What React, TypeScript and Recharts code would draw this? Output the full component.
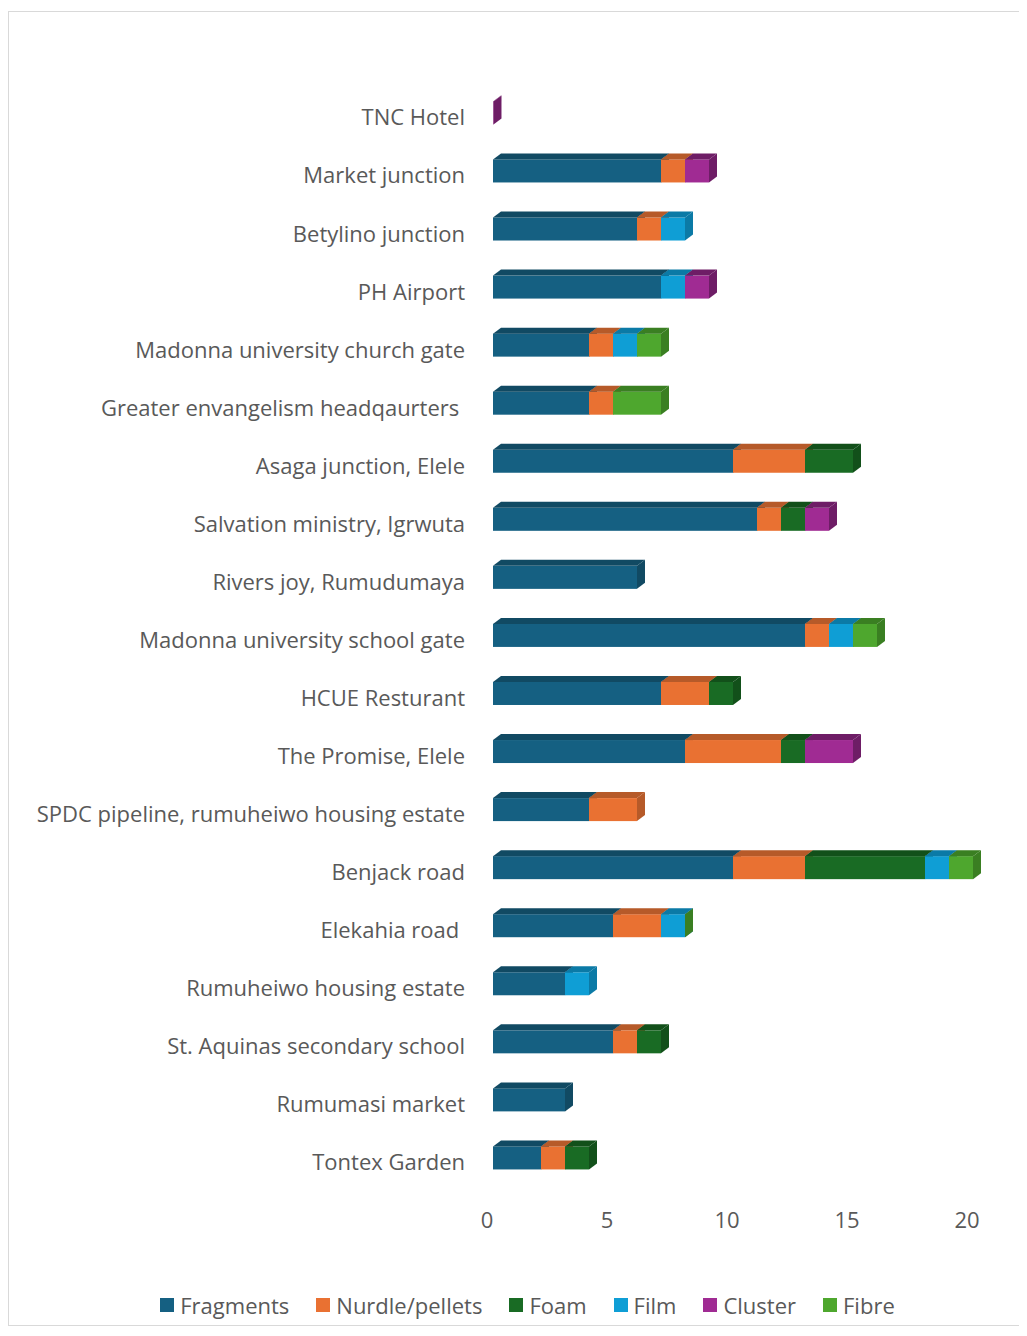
import * as React from "react"
import { BarChart, Bar, XAxis, YAxis } from "recharts"

const sites = [
  "TNC Hotel",
  "Market junction",
  "Betylino junction",
  "PH Airport",
  "Madonna university church gate",
  "Greater envangelism headqaurters ",
  "Asaga junction, Elele",
  "Salvation ministry, Igrwuta",
  "Rivers joy, Rumudumaya",
  "Madonna university school gate",
  "HCUE Resturant",
  "The Promise, Elele",
  "SPDC pipeline, rumuheiwo housing estate",
  "Benjack road",
  "Elekahia road ",
  "Rumuheiwo housing estate",
  "St. Aquinas secondary school",
  "Rumumasi market",
  "Tontex Garden",
]

// null = nothing recorded for that site
const fragments = [null, 7, 6, 7, 4, 4, 10, 11, 6, 13, 7, 8, 4, 10, 5, 3, 5, 3, 2]
const nurdle = [null, 1, 1, null, 1, 1, 3, 1, null, 1, 2, 4, 2, 3, 2, null, 1, null, 1]
const foam = [null, null, null, null, null, null, 2, 1, null, null, 1, 1, null, 5, null, null, 1, null, 1]
const film = [null, null, 1, 1, 1, null, null, null, null, 1, null, null, null, 1, 1, 1, null, null, null]
const cluster = [0.02, 1, null, 1, null, null, null, 1, null, null, null, 2, null, null, null, null, null, null, null]
const fibre = [null, null, null, null, 1, 2, null, null, null, 1, null, null, null, 1, 0, null, null, null, null]

const xTicks = [0, 5, 10, 15, 20]

const seriesDefs = [
  { key: "Fragments", values: fragments, color: "#156082", dark: "#114a63" },
  { key: "Nurdle/pellets", values: nurdle, color: "#e97132", dark: "#b65a29" },
  { key: "Foam", values: foam, color: "#196b24", dark: "#12501a" },
  { key: "Film", values: film, color: "#0f9ed5", dark: "#0b7aa6" },
  { key: "Cluster", values: cluster, color: "#a02b93", dark: "#6e1d66" },
  { key: "Fibre", values: fibre, color: "#4ea72e", dark: "#3a7f22" },
]

const data = sites.map((site, i) => {
  const row: Record<string, string | number | null> = { site }
  for (const s of seriesDefs) row[s.key] = s.values[i]
  return row
})

const DX = 8
const DY = 6

function make3D(color: string, dark: string) {
  return (props: any) => {
    const { x, y, width, height, payload, dataKey } = props
    const raw = payload ? payload[dataKey] : null
    if (raw == null || !(width >= 0)) return <g />
    const w = width
    return (
      <g>
        <rect x={x} y={y} width={w} height={height} fill={color} />
        <polygon
          points={`${x},${y} ${x + DX},${y - DY} ${x + w + DX},${y - DY} ${x + w},${y}`}
          fill={dark}
        />
        <polygon
          points={`${x + w},${y} ${x + w + DX},${y - DY} ${x + w + DX},${y + height - DY} ${x + w},${y + height}`}
          fill={dark}
        />
      </g>
    )
  }
}

function SiteTick(props: any) {
  const { y, payload } = props
  return (
    <text
      x={456}
      y={y + 13}
      textAnchor="end"
      fill="#595959"
      fontSize={22}
      style={{ whiteSpace: "pre" }}
    >
      {payload.value}
    </text>
  )
}

function ValueTick(props: any) {
  const { x, payload } = props
  return (
    <text x={x - 6} y={1216} textAnchor="middle" fill="#595959" fontSize={22}>
      {payload.value}
    </text>
  )
}

function LegendBox() {
  return (
    <div
      style={{
        position: "absolute",
        top: 1278,
        left: 0,
        width: 1017,
        display: "flex",
        justifyContent: "center",
        gap: 27,
        paddingLeft: 20,
        boxSizing: "border-box",
        fontSize: 22,
        color: "#595959",
      }}
    >
      {seriesDefs.map((s) => (
        <div key={s.key} style={{ display: "flex", alignItems: "center", gap: 6 }}>
          <span style={{ width: 14, height: 14, background: s.color, display: "inline-block" }} />
          <span>{s.key}</span>
        </div>
      ))}
    </div>
  )
}

export default function App() {
  return (
    <div style={{ paddingTop: 3 }}>
      <div
        style={{
          position: "relative",
          width: 1017,
          height: 1313,
          border: "1px solid #d9d9d9",
          background: "#fff",
          fontFamily: "'Open Sans', sans-serif",
        }}
      >
        <BarChart
          width={1017}
          height={1313}
          data={data}
          layout="vertical"
          barSize={23}
          margin={{ top: 71.4, right: 53, bottom: 78.5, left: 0 }}
        >
          <XAxis
            type="number"
            domain={[0, 20]}
            ticks={xTicks}
            tick={<ValueTick />}
            axisLine={false}
            tickLine={false}
            height={60}
          />
          <YAxis
            type="category"
            dataKey="site"
            width={484}
            tick={<SiteTick />}
            axisLine={false}
            tickLine={false}
            interval={0}
          />
          {seriesDefs.map((s) => (
            <Bar
              key={s.key}
              dataKey={s.key}
              stackId="a"
              fill={s.color}
              shape={make3D(s.color, s.dark)}
              isAnimationActive={false}
            />
          ))}
        </BarChart>
        <LegendBox />
      </div>
    </div>
  )
}
